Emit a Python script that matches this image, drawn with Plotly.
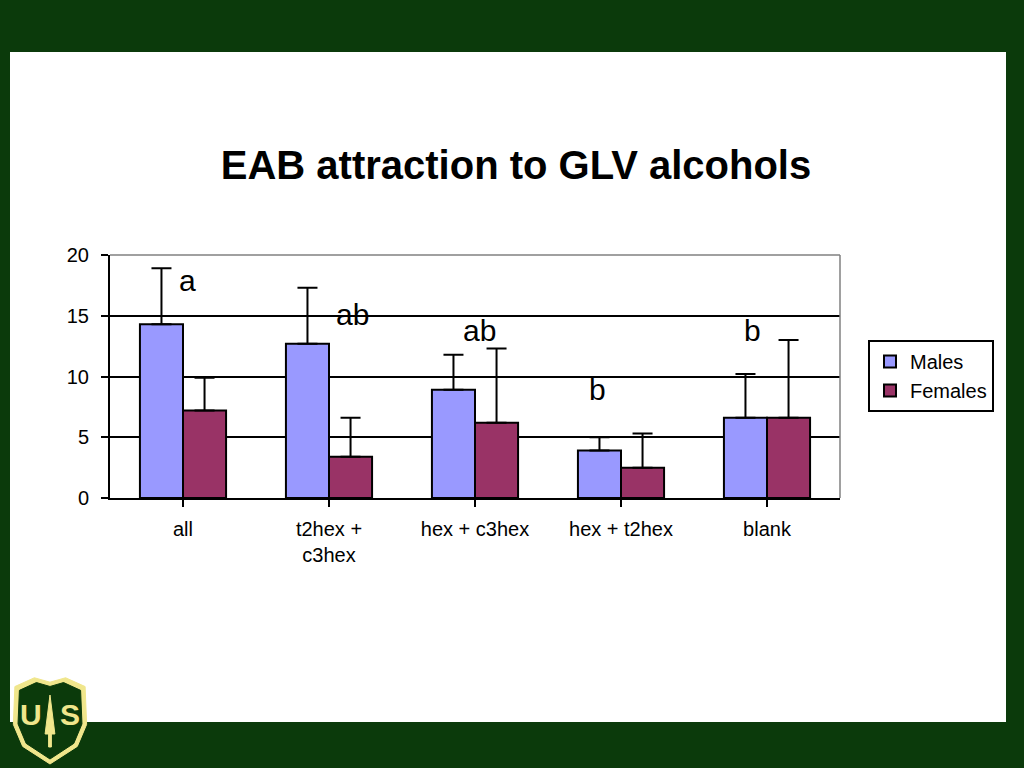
import plotly.graph_objects as go

categories = ["all", "t2hex +<br>c3hex", "hex + c3hex", "hex + t2hex", "blank"]
males = [14.3, 12.7, 8.9, 3.9, 6.6]
males_err = [4.6, 4.6, 2.9, 1.1, 3.6]
females = [7.2, 3.4, 6.2, 2.5, 6.6]
females_err = [2.7, 3.2, 6.1, 2.8, 6.4]
letters = ["a", "ab", "ab", "b", "b"]
letter_x = [0.03, 1.16, 2.03, 2.84, 3.90]
letter_y = [17.9, 15.1, 13.8, 8.9, 13.8]
y_ticks = [0, 5, 10, 15, 20]

W, H = 1024, 768
L, R, T, B = 110, 840, 255, 498
def px(x):
    return (x - L) / (R - L)
def py(y):
    return (B - y) / (B - T)

DARK = "#0b3a0b"
GOLD = "#f0e68c"
FONT = "Liberation Sans, Arial, sans-serif"

fig = go.Figure()
fig.add_trace(go.Bar(
    name="Males", x=list(range(5)), y=males,
    marker=dict(color="#9999ff", line=dict(color="black", width=2)),
    error_y=dict(type="data", array=males_err, arrayminus=[0]*5, symmetric=False,
                 color="black", thickness=2, width=10),
))
fig.add_trace(go.Bar(
    name="Females", x=list(range(5)), y=females,
    marker=dict(color="#993366", line=dict(color="black", width=2)),
    error_y=dict(type="data", array=females_err, arrayminus=[0]*5, symmetric=False,
                 color="black", thickness=2, width=10),
))

shapes = [
    dict(type="rect", xref="paper", yref="paper", x0=px(10), x1=px(1006), y0=py(722), y1=py(52),
         fillcolor="white", line=dict(width=0), layer="below"),
    dict(type="line", xref="paper", yref="paper", x0=0, x1=1, y0=1, y1=1,
         line=dict(color="#808080", width=1.5)),
    dict(type="line", xref="paper", yref="paper", x0=1, x1=1, y0=0, y1=1,
         line=dict(color="#808080", width=1.5)),
]
# shield logo (decorative)
def poly(x0, y0, w, h, pts):
    return "M " + " L ".join(f"{px(x0 + a*w):.4f},{py(y0 + b*h):.4f}" for a, b in pts) + " Z"
shield_pts = [(0.05, 0.12), (0.3, 0.02), (0.5, 0.07), (0.7, 0.02), (0.95, 0.12),
              (0.97, 0.55), (0.85, 0.8), (0.5, 1.0), (0.15, 0.8), (0.03, 0.55)]
shapes.append(dict(type="path", xref="paper", yref="paper", path=poly(11, 676, 78, 88, shield_pts),
                   fillcolor=GOLD, line=dict(color=GOLD, width=1), layer="below"))
shapes.append(dict(type="path", xref="paper", yref="paper", path=poly(16, 681, 68, 78, shield_pts),
                   fillcolor=DARK, line=dict(color=DARK, width=1), layer="below"))
tree_pts = [(0.5, 0.0), (0.85, 0.75), (0.6, 0.75), (0.6, 1.0), (0.4, 1.0), (0.4, 0.75), (0.15, 0.75)]
shapes.append(dict(type="path", xref="paper", yref="paper", path=poly(43, 695, 14, 52, tree_pts),
                   fillcolor=GOLD, line=dict(color=GOLD, width=1), layer="below"))

annotations = [
    dict(x=lx, y=ly, text=t, showarrow=False, xref="x", yref="y",
         font=dict(size=30, color="black", family=FONT))
    for lx, ly, t in zip(letter_x, letter_y, letters)
]
for lx, t in [(31, "U"), (70, "S")]:
    annotations.append(dict(x=px(lx), y=py(714), xref="paper", yref="paper",
                            xanchor="center", yanchor="middle", text=f"<b>{t}</b>",
                            showarrow=False, font=dict(size=30, color=GOLD, family=FONT)))

fig.update_layout(
    width=W, height=H,
    margin=dict(l=L, r=W - R, t=T, b=H - B),
    paper_bgcolor=DARK,
    plot_bgcolor="#c0c0c0",
    barmode="group", bargap=0.41, bargroupgap=0,
    title=dict(text="<b>EAB attraction to GLV alcohols</b>", x=px(516), xref="paper", xanchor="center",
               y=1 - 165/768, yanchor="middle", yref="container",
               font=dict(size=40, color="black", family=FONT)),
    font=dict(family=FONT, color="black", size=20),
    xaxis=dict(tickmode="array", tickvals=list(range(5)), ticktext=categories,
               tickson="boundaries", ticks="outside", ticklen=7, tickwidth=2, tickcolor="black",
               showline=True, linecolor="black", linewidth=2, showgrid=False,
               range=[-0.5, 4.5], tickfont=dict(size=20), ticklabelstandoff=5),
    yaxis=dict(range=[0, 20], tickvals=y_ticks, ticks="outside", ticklen=7, tickwidth=2,
               tickcolor="black", showline=True, linecolor="black", linewidth=2,
               showgrid=True, gridcolor="black", gridwidth=2, zeroline=False,
               tickfont=dict(size=20), ticklabelstandoff=8),
    legend=dict(x=px(868), y=py(340), xanchor="left", yanchor="top",
                bgcolor="white", bordercolor="black", borderwidth=2,
                font=dict(size=20, family=FONT), itemsizing="constant",
                itemwidth=30, tracegroupgap=0),
    shapes=shapes,
    annotations=annotations,
)

fig.write_html("out.html", config={"displayModeBar": False},
               post_script="document.body.style.margin='0';")
